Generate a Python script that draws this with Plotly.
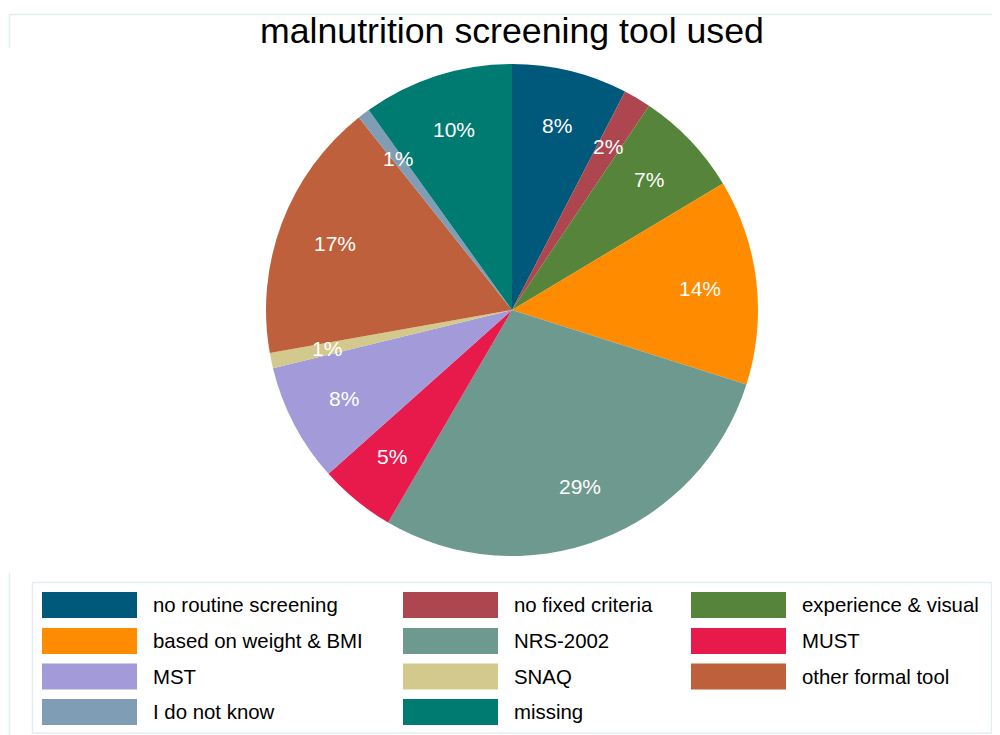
import numpy as np
import plotly.graph_objects as go

# ---- data ----
categories = ["no routine screening", "no fixed criteria", "experience & visual",
              "based on weight & BMI", "NRS-2002", "MUST",
              "MST", "SNAQ", "other formal tool",
              "I do not know", "missing"]
shares = [7.6, 1.8, 7.0, 13.5, 28.5, 5.0, 7.8, 1.0, 17.1, 0.8, 9.9]
colors = ["#00587b", "#ae4650", "#56843a", "#ff8b00", "#6e998e", "#e8194b",
          "#a29ad9", "#d3c98c", "#bf603c", "#7f9db4", "#007b72"]
title_text = "malnutrition screening tool used"

# page has an 8px body margin; work in page pixel coordinates and convert
OFF = 8
W, H = 1000 - OFF, 735 - OFF
FONT = "Liberation Sans, Arial, sans-serif"

# pie geometry (page pixels)
cx, cy, R = 512, 310, 246

def px(x):
    return (x - OFF) / W

def py(y):
    return 1 - (y - OFF) / H

fig = go.Figure(go.Pie(
    labels=categories, values=shares, sort=False, direction="clockwise",
    rotation=0, marker=dict(colors=colors, line=dict(width=0)),
    textinfo="none", hoverinfo="label+percent", showlegend=False,
    domain=dict(x=[px(cx - R), px(cx + R)], y=[py(cy + R), py(cy - R)]),
))

annotations = []
shapes = []

# percentage labels at 0.77 R along slice mid-angles
vals = np.array(shares, dtype=float)
tot = vals.sum()
cum = np.cumsum(vals) - vals / 2
for v, c in zip(vals, cum):
    a = c / tot * 2 * np.pi
    lx = cx + 0.77 * R * np.sin(a)
    ly = cy - 0.77 * R * np.cos(a)
    annotations.append(dict(x=px(lx), y=py(ly), xref="paper", yref="paper",
                            text=f"{round(v / tot * 100):.0f}%", showarrow=False,
                            font=dict(family=FONT, size=21, color="white"),
                            xanchor="center", yanchor="middle"))

# title
annotations.append(dict(x=px(512), y=py(31), xref="paper", yref="paper", text=title_text,
                        showarrow=False, font=dict(family=FONT, size=35.7, color="black"),
                        xanchor="center", yanchor="middle"))

# outer frame lines
frame_col = "#e3eef0"
shapes.append(dict(type="line", xref="paper", yref="paper", x0=px(9.5), x1=1, y0=py(14.5), y1=py(14.5),
                   line=dict(color=frame_col, width=1.5)))
shapes.append(dict(type="line", xref="paper", yref="paper", x0=px(9.5), x1=px(9.5), y0=py(14.5), y1=py(48),
                   line=dict(color=frame_col, width=1.5)))
shapes.append(dict(type="line", xref="paper", yref="paper", x0=px(9.5), x1=px(9.5), y0=py(573), y1=0,
                   line=dict(color=frame_col, width=1.5)))

# legend box
shapes.append(dict(type="rect", xref="paper", yref="paper", x0=px(32.5), x1=px(991.5), y0=py(733), y1=py(582.5),
                   line=dict(color="#e3eef0", width=1.5), fillcolor="white", layer="below"))

col_x = [42, 403, 691]
row_y = [605, 641, 676.5, 712]
sw_w, sw_h = 95, 26
for i, (lab, col) in enumerate(zip(categories, colors)):
    r, c = divmod(i, 3)
    x0 = col_x[c]
    yc = row_y[r]
    shapes.append(dict(type="rect", xref="paper", yref="paper", x0=px(x0), x1=px(x0 + sw_w),
                       y0=py(yc + sw_h / 2), y1=py(yc - sw_h / 2), fillcolor=col,
                       line=dict(width=0)))
    annotations.append(dict(x=px(x0 + sw_w + 14), y=py(yc), xref="paper", yref="paper", text=lab,
                            showarrow=False, font=dict(family=FONT, size=20.4, color="black"),
                            xanchor="left", yanchor="middle"))

fig.update_layout(width=W, height=H, margin=dict(l=0, r=0, t=0, b=0),
                  paper_bgcolor="white", plot_bgcolor="white",
                  annotations=annotations, shapes=shapes, showlegend=False)

fig.write_html("out.html")
